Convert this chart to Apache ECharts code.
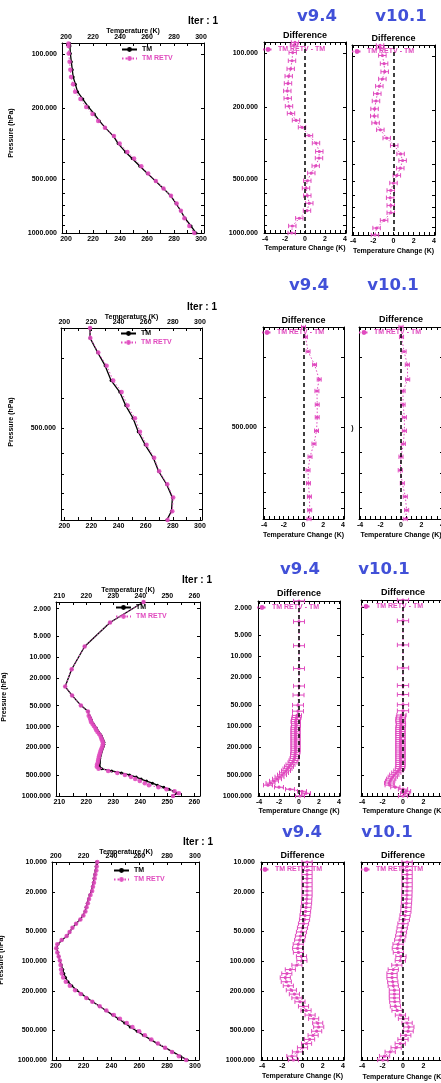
<!DOCTYPE html>
<html><head><meta charset="utf-8">
<script src="https://cdn.jsdelivr.net/npm/echarts@6/dist/echarts.min.js"></script>
<style>html,body{margin:0;padding:0;background:#fff}#c{width:441px;height:1083px}</style>
</head><body><div id="c"></div>
<script>
const FONT = "'Liberation Sans', Arial, sans-serif";
const MAG = '#e04bbf';
const BLUE = '#4150d8';

// ---------- Row 1 ----------
const L1 = [87, 90, 99, 110, 122, 134, 147, 162, 178, 197, 216, 236, 258, 287, 316, 352, 383, 423, 464, 512, 563, 619, 683, 751, 828, 914, 1000];
const TM1 = [202.8, 202.9, 203.2, 203.9, 204.6, 205.3, 206.9, 208.5, 212.4, 216.5, 221, 224.7, 229.1, 235.1, 238.6, 244, 249, 254.7, 260.2, 266.3, 272.1, 277.5, 281.5, 284.9, 288.2, 292.6, 296.3];
const D1_V94 = [-1.0, -1.1, -1.23, -1.3, -1.43, -1.63, -1.7, -1.77, -1.73, -1.6, -1.4, -0.9, -0.3, 0.4, 1.1, 1.43, 1.4, 1.07, 0.63, 0.23, 0.1, 0.23, 0.43, 0.2, -0.57, -1.27, -1.33];
const D1_V101 = [-1.33, -1.3, -1.1, -0.93, -0.87, -1.1, -1.4, -1.6, -1.73, -1.87, -1.9, -1.77, -1.3, -0.67, 0.07, 0.7, 0.9, 0.67, 0.33, 0, -0.27, -0.33, -0.27, -0.27, -0.93, -1.67, -1.83];
const E1 = 0.37;

// ---------- Row 2 ----------
const L2 = [240, 258, 287, 316, 352, 383, 423, 464, 512, 563, 619, 683, 751, 828, 914, 975];
const TM2 = [219, 219, 224.6, 230.1, 234.5, 240.9, 245.3, 250.7, 254.5, 259.6, 265.6, 269.5, 275.4, 279.7, 279, 275.6];
const D2_V94 = [0, 0.2, 0.46, 1.12, 1.59, 1.36, 1.39, 1.39, 1.32, 1.06, 0.66, 0.46, 0.5, 0.6, 0.63, 0.56];
const D2_V101 = [0, 0.05, 0.3, 0.62, 0.65, 0.2, 0.2, 0.33, 0.33, 0.23, 0, -0.07, 0.13, 0.42, 0.55, 0.42];
const E2 = 0.2;

// ---------- Row 3 ----------
const L3 = [1.6, 3.16, 7.0, 14.9, 26.5, 35.7, 49.8, 60.8,
  70, 75, 80, 86, 92, 98, 105, 112, 120, 128,
  137, 147, 157, 168, 180, 193, 206, 221, 236, 253,
  270, 289, 310, 331, 355, 380, 406, 435, 465, 498,
  533, 570, 610, 653, 699, 748, 800, 856, 916, 1000];
const TM3 = [241.2, 228.8, 219.4, 214.6, 212.2, 214.8, 218.1, 220.7,
  221.1, 221.6, 221.9, 222.1, 222.6, 223.1, 223.7, 224, 224.5, 225.1,
  225.6, 225.9, 226.2, 226.5, 226.5, 226.3, 226, 225.7, 225.5, 225.3,
  225.1, 225, 224.9, 224.9, 224.8, 224.9, 225.7, 229.4, 233, 236,
  238.5, 240.3, 242.3, 244.5, 246.3, 248.7, 250.6, 252.4, 253.6, 252];
const D3_V94 = [0, 0, 0, 0, 0, -0.05, -0.1, -0.1,
  -0.2, -0.25, -0.3, -0.35, -0.3, -0.3, -0.35, -0.35, -0.35, -0.35,
  -0.35, -0.35, -0.35, -0.35, -0.35, -0.35, -0.35, -0.35, -0.35, -0.4,
  -0.4, -0.45, -0.55, -0.65, -0.85, -1.0, -1.15, -1.3, -1.5, -1.7,
  -1.95, -2.2, -2.5, -2.85, -3.1, -2.0, -0.9, 0.3, 0.7, 0.1];
const D3_V101 = [0, 0, 0, 0, 0, 0, 0, 0,
  -0.15, -0.2, -0.25, -0.25, -0.2, -0.2, -0.25, -0.25, -0.25, -0.25,
  -0.25, -0.25, -0.25, -0.25, -0.25, -0.25, -0.25, -0.25, -0.25, -0.25,
  -0.25, -0.25, -0.25, -0.25, -0.25, -0.25, -0.3, -0.45, -0.65, -0.85,
  -1.0, -1.15, -1.25, -1.35, -1.3, -0.75, 0.0, 0.3, 0.2, 0.0];
const E3 = [0.55, 0.55, 0.55, 0.55, 0.55, 0.55, 0.55, 0.55,
  0.45, 0.45, 0.45, 0.45, 0.45, 0.45, 0.45, 0.45, 0.45, 0.45,
  0.45, 0.45, 0.45, 0.45, 0.45, 0.45, 0.45, 0.45, 0.45, 0.45,
  0.45, 0.45, 0.45, 0.45, 0.45, 0.45, 0.45, 0.45, 0.45, 0.45,
  0.45, 0.45, 0.45, 0.45, 0.45, 0.45, 0.45, 0.45, 0.45, 0.45];

// ---------- Row 4 ----------
const L4 = [10, 11.1, 12.2, 13.4, 14.7, 16.2, 17.8, 19.6, 21.6, 23.7,
  26.1, 28.7, 31.6, 34.7, 38.2, 42, 46.2, 50.9, 56, 61.5,
  67.7, 74.5, 82, 90, 99, 110, 122, 134, 147, 162,
  178, 197, 216, 236, 258, 287, 316, 352, 383, 423,
  464, 512, 563, 619, 683, 751, 828, 914, 1000];
const TM4 = [229.4, 229, 228.7, 228, 227.5, 227, 226.3, 225.7, 224.5, 223.5,
  222.7, 221.8, 221, 219.6, 217.5, 214.5, 212, 210, 208, 204.5,
  201.5, 200.8, 201.5, 202.2, 203, 204, 205, 205.8, 207, 208.8,
  211.5, 215, 218.7, 222.5, 226.5, 231.5, 236, 241, 245, 249.5,
  253.5, 258.5, 263, 268, 273, 278.5, 284, 289.5, 294.5];
const D4_V94 = [0.45, 0.45, 0.45, 0.45, 0.45, 0.45, 0.45, 0.45, 0.45, 0.42,
  0.4, 0.35, 0.3, 0.25, 0.2, 0.1, 0.0, -0.1, -0.2, -0.28,
  -0.42, -0.48, -0.4, -0.1, -0.06, -0.55, -1.2, -1.55, -1.7, -1.6,
  -1.4, -1.1, -0.8, -0.55, -0.25, 0.1, 0.35, 0.75, 1.1, 1.5,
  1.6, 1.4, 1.05, 0.7, 0.4, 0.0, -0.5, -1.05, -0.9];
const D4_V101 = [0.4, 0.4, 0.4, 0.4, 0.4, 0.4, 0.4, 0.39, 0.38, 0.36,
  0.34, 0.3, 0.28, 0.2, 0.13, 0.0, -0.08, -0.15, -0.22, -0.32,
  -0.48, -0.55, -0.45, -0.2, -0.26, -0.6, -0.95, -1.07, -1.07, -1.0,
  -0.95, -0.84, -0.84, -0.84, -0.8, -0.74, -0.58, -0.25, 0.05, 0.4,
  0.57, 0.5, 0.27, 0.0, -0.27, -0.67, -1.25, -1.8, -1.97];
const E4 = 0.5;

// ---------- tick labels ----------
const T_LABELS_A = [200, 220, 240, 260, 280, 300];
const T_TICKS_A = [200, 210, 220, 230, 240, 250, 260, 270, 280, 290, 300];
const T_LABELS_B = [210, 220, 230, 240, 250, 260];
const T_TICKS_B = [210, 215, 220, 225, 230, 235, 240, 245, 250, 255, 260];
const DT_LABELS = [-4, -2, 0, 2, 4];
const DT_TICKS = [-4, -3.5, -3, -2.5, -2, -1.5, -1, -0.5, 0, 0.5, 1, 1.5, 2, 2.5, 3, 3.5, 4];
const P_LABELS_1 = [100, 200, 500, 1000];
const P_TICKS_1 = [100, 200, 300, 400, 500, 600, 700, 800, 900, 1000];
const P_LABELS_2 = [500];
const P_TICKS_2 = [300, 400, 500, 600, 700, 800, 900];
const P_LABELS_3 = [2, 5, 10, 20, 50, 100, 200, 500, 1000];
const P_LABELS_4 = [10, 20, 50, 100, 200, 500, 1000];

const rowErr = (v, n) => new Array(n).fill(v);

// ---------- layout ----------
const PANELS = [
  {kind:'prof', left:62, top:43, w:142, h:190, xr:[197, 302.2], yr:[86.5, 1000], xl:T_LABELS_A, xt:T_TICKS_A, yl:P_LABELS_1, yt:P_TICKS_1, p:L1, t:TM1, d:D1_V94, lg:[121, 46]},
  {kind:'diff', left:264, top:42, w:82, h:191, yr:[86.5, 1000], yl:P_LABELS_1, yt:P_TICKS_1, showY:true, p:L1, d:D1_V94, e:rowErr(E1, L1.length), lg:[262, 46]},
  {kind:'diff', left:352, top:45, w:83, h:190, yr:[86.5, 1000], yl:P_LABELS_1, yt:P_TICKS_1, showY:false, p:L1, d:D1_V101, e:rowErr(E1, L1.length), lg:[351, 48]},

  {kind:'prof', left:61, top:328, w:141, h:192, xr:[197.6, 301.5], yr:[240, 975], xl:T_LABELS_A, xt:T_TICKS_A, yl:P_LABELS_2, yt:P_TICKS_2, p:L2, t:TM2, d:D2_V94, lg:[120, 330]},
  {kind:'diff', left:263, top:327, w:81, h:192, yr:[240, 975], yl:P_LABELS_2, yt:P_TICKS_2, showY:true, p:L2, d:D2_V94, e:rowErr(E2, L2.length), lg:[261, 329]},
  {kind:'diff', left:359, top:327, w:84, h:192, yr:[240, 975], yl:P_LABELS_2, yt:P_TICKS_2, showY:false, p:L2, d:D2_V101, e:rowErr(E2, L2.length), lg:[358, 329]},

  {kind:'prof', left:56, top:602, w:144, h:194, xr:[208.8, 262.1], yr:[1.6, 1000], xl:T_LABELS_B, xt:T_TICKS_B, yl:P_LABELS_3, yt:P_LABELS_3, p:L3, t:TM3, d:D3_V94, lg:[115, 604]},
  {kind:'diff', left:258, top:601, w:82, h:195, yr:[1.6, 1000], yl:P_LABELS_3, yt:P_LABELS_3, showY:true, p:L3, d:D3_V94, e:E3, lg:[256, 604]},
  {kind:'diff', left:361, top:600, w:84, h:196, yr:[1.6, 1000], yl:P_LABELS_3, yt:P_LABELS_3, showY:false, p:L3, d:D3_V101, e:E3, lg:[360, 603]},

  {kind:'prof', left:52, top:862, w:147, h:198, xr:[197.3, 302.9], yr:[10, 1000], xl:T_LABELS_A, xt:T_TICKS_A, yl:P_LABELS_4, yt:P_LABELS_4, p:L4, t:TM4, d:D4_V94, lg:[113, 867]},
  {kind:'diff', left:261, top:862, w:83, h:198, yr:[10, 1000], yl:P_LABELS_4, yt:P_LABELS_4, showY:true, p:L4, d:D4_V94, e:rowErr(E4, L4.length), lg:[259, 866]},
  {kind:'diff', left:361, top:862, w:84, h:198, yr:[10, 1000], yl:P_LABELS_4, yt:P_LABELS_4, showY:false, p:L4, d:D4_V101, e:rowErr(E4, L4.length), lg:[360, 866]}
];

const grid = [], xAxis = [], yAxis = [], series = [], legend = [], graphic = [];
const lblStyle = {fontSize:7, fontWeight:'bold', fontFamily:FONT, color:'#000'};

function xAx(g, pos, r, labels, ticks, show, margin) {
  return {type:'value', gridIndex:g, position:pos, min:r[0], max:r[1],
    axisLine:{show:true, onZero:false, lineStyle:{color:'#000', width:1}},
    axisTick:{show:true, inside:true, length:3, customValues:ticks, lineStyle:{color:'#000', width:1}},
    axisLabel:Object.assign({show:show, customValues:labels, margin:margin}, lblStyle),
    splitLine:{show:false}, minorTick:{show:false}};
}
function yAx(g, pos, r, labels, ticks, show, margin) {
  return {type:'log', logBase:10, gridIndex:g, position:pos, inverse:true, min:r[0], max:r[1],
    axisLine:{show:true, onZero:false, lineStyle:{color:'#000', width:1}},
    axisTick:{show:true, inside:true, length:3, customValues:ticks, lineStyle:{color:'#000', width:1}},
    axisLabel:Object.assign({show:show, customValues:labels, margin:margin, formatter:(v) => Number(v).toFixed(3)}, lblStyle),
    splitLine:{show:false}, minorTick:{show:false}};
}

function renderErr(params, api) {
  const x = api.value(0), p = api.value(1), e = api.value(2);
  const a = api.coord([x - e, p]), b = api.coord([x + e, p]);
  const c = 2.2;
  const st = {stroke:MAG, lineWidth:1, fill:null};
  return {type:'group', children:[
    {type:'line', shape:{x1:a[0], y1:a[1], x2:b[0], y2:b[1]}, style:st},
    {type:'line', shape:{x1:a[0], y1:a[1]-c, x2:a[0], y2:a[1]+c}, style:st},
    {type:'line', shape:{x1:b[0], y1:b[1]-c, x2:b[0], y2:b[1]+c}, style:st}
  ]};
}

PANELS.forEach((P, g) => {
  grid.push({left:P.left, top:P.top, width:P.w, height:P.h, containLabel:false, outerBoundsMode:'none', show:false});
  if (P.kind === 'prof') {
    xAxis.push(xAx(g, 'bottom', P.xr, P.xl, P.xt, true, 3));
    xAxis.push(xAx(g, 'top', P.xr, P.xl, P.xt, true, 2));
    yAxis.push(yAx(g, 'left', P.yr, P.yl, P.yt, true, 5));
    yAxis.push(yAx(g, 'right', P.yr, P.yl, P.yt, false, 5));
    series.push({type:'line', name:'TM', xAxisIndex:2*g, yAxisIndex:2*g, clip:false, animation:false, silent:true,
      data:P.p.map((p, i) => [P.t[i], p]), symbol:'circle', symbolSize:3,
      lineStyle:{color:'#000', width:1.3}, itemStyle:{color:'#000'}, z:2});
    series.push({type:'line', name:'TM RETV', xAxisIndex:2*g, yAxisIndex:2*g, clip:false, animation:false, silent:true,
      data:P.p.map((p, i) => [P.t[i] + P.d[i], p]), symbol:'circle', symbolSize:4.5,
      lineStyle:{color:MAG, width:1, type:[1.5, 2]}, itemStyle:{color:MAG, opacity:0.9}, z:3});
    legend.push({left:P.lg[0], top:P.lg[1], orient:'vertical', padding:0, itemGap:2, itemWidth:15, itemHeight:6,
      selectedMode:false, textStyle:{fontSize:7, fontWeight:'bold', fontFamily:FONT},
      data:[{name:'TM', textStyle:{color:'#000'}}, {name:'TM RETV', textStyle:{color:MAG}}]});
  } else {
    const xr = [-4.1, 4.1];
    xAxis.push(xAx(g, 'bottom', xr, DT_LABELS, DT_TICKS, true, 3));
    xAxis.push(xAx(g, 'top', xr, DT_LABELS, DT_TICKS, false, 2));
    yAxis.push(yAx(g, 'left', P.yr, P.yl, P.yt, P.showY, 6));
    yAxis.push(yAx(g, 'right', P.yr, P.yl, P.yt, false, 5));
    series.push({type:'custom', name:'err', xAxisIndex:2*g, yAxisIndex:2*g, renderItem:renderErr, animation:false, silent:true,
      encode:{x:0, y:1}, data:P.p.map((p, i) => [P.d[i], p, P.e[i]]), z:2, clip:false});
    series.push({type:'line', name:'TM RETV - TM', xAxisIndex:2*g, yAxisIndex:2*g, clip:false, animation:false, silent:true,
      data:P.p.map((p, i) => [P.d[i], p]), symbol:'circle', symbolSize:3.2,
      lineStyle:{color:MAG, width:1, type:[1.5, 2]}, itemStyle:{color:MAG}, z:3,
      markLine:{silent:true, animation:false, symbol:['none', 'none'], label:{show:false},
        lineStyle:{color:'#000', type:[4, 3], width:1.5}, data:[{xAxis:0}]}});
    legend.push({left:P.lg[0], top:P.lg[1], orient:'vertical', padding:0, itemWidth:10, itemHeight:6,
      selectedMode:false, textStyle:{fontSize:7, fontWeight:'bold', fontFamily:FONT},
      data:[{name:'TM RETV - TM', textStyle:{color:MAG}}]});
  }
});

function txt(x, y, s, o) {
  o = o || {};
  graphic.push({type:'text', x:x, y:y, rotation:o.rot || 0, silent:true, z:10,
    style:{text:s, fill:o.color || '#000', fontSize:o.size || 7, fontWeight:'bold',
      fontFamily:o.family || FONT, align:o.align || 'center', verticalAlign:'middle',
      textAlign:o.align || 'center', textVerticalAlign:'middle'}});
}
const V = {size:16.5, family:"'DejaVu Sans', Verdana, sans-serif", color:BLUE};
const ROT = {rot:Math.PI / 2};
// row 1
txt(218, 21, 'Iter : 1', {size:10, align:'right'});
txt(133, 31.5, 'Temperature (K)');
txt(11, 133, 'Pressure (hPa)', ROT);
txt(317, 17, 'v9.4', V); txt(401, 17, 'v10.1', V);
txt(305, 36, 'Difference', {size:9}); txt(393.5, 39, 'Difference', {size:9});
txt(305, 248, 'Temperature Change (K)'); txt(393.5, 251, 'Temperature Change (K)');
// row 2
txt(217, 307, 'Iter : 1', {size:10, align:'right'});
txt(131.5, 317, 'Temperature (K)');
txt(11, 422, 'Pressure (hPa)', ROT);
txt(309, 286, 'v9.4', V); txt(393, 286, 'v10.1', V);
txt(303.5, 321, 'Difference', {size:9}); txt(401, 320, 'Difference', {size:9});
txt(303.5, 535, 'Temperature Change (K)'); txt(401, 535, 'Temperature Change (K)');
txt(352.5, 428, ')');
// row 3
txt(212, 580, 'Iter : 1', {size:10, align:'right'});
txt(128, 590, 'Temperature (K)');
txt(4, 697, 'Pressure (hPa)', ROT);
txt(300, 570, 'v9.4', V); txt(384, 570, 'v10.1', V);
txt(299, 594, 'Difference', {size:9}); txt(403, 593, 'Difference', {size:9});
txt(299, 811, 'Temperature Change (K)'); txt(403, 811, 'Temperature Change (K)');
// row 4
txt(213, 842, 'Iter : 1', {size:10, align:'right'});
txt(126, 852, 'Temperature (K)');
txt(1, 960, 'Pressure (hPa)', ROT);
txt(302, 833, 'v9.4', V); txt(387, 833, 'v10.1', V);
txt(302.5, 856, 'Difference', {size:9}); txt(403, 856, 'Difference', {size:9});
txt(302.5, 1076, 'Temperature Change (K)'); txt(403, 1077, 'Temperature Change (K)');

const chart = echarts.init(document.getElementById('c'), null, {renderer:'canvas'});
chart.setOption({backgroundColor:'#fff', animation:false, grid, xAxis, yAxis, series, legend, graphic, tooltip:{show:false}});
</script></body></html>
